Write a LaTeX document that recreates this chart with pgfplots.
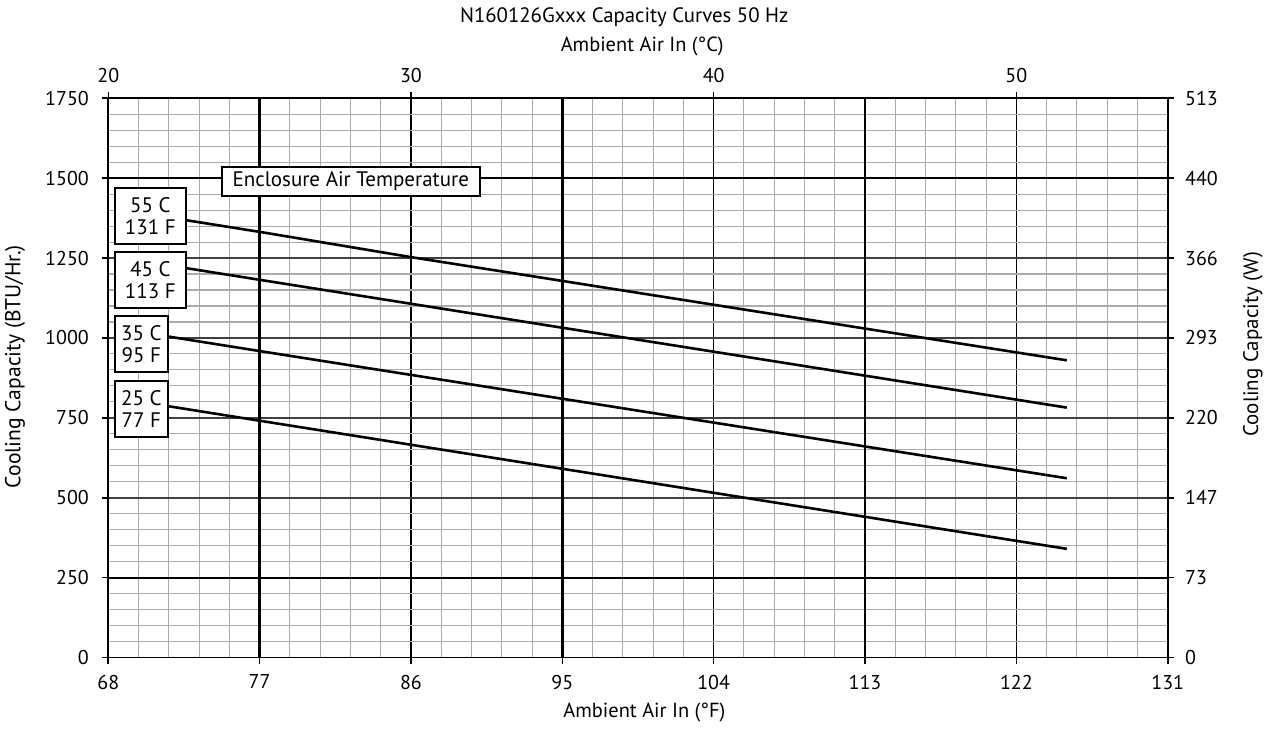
\documentclass[border=0pt]{standalone}
\usepackage{fontspec}
\setmainfont{PT Sans}
\usepackage{pgfplots}
\pgfplotsset{compat=1.18}
\usetikzlibrary{calc}
\begin{document}
\begin{tikzpicture}
\pgfplotsset{every axis/.append style={
  scale only axis, width=529.7pt, height=279.6pt,
  /pgf/number format/assume math mode=true,
  /pgf/number format/1000 sep={},
  tick label style={font=\fontsize{10}{11}\selectfont, black},
  tick align=outside, major tick length=3.2pt, minor tick length=0pt,
  axis line style={line width=0.9pt, black},
  major tick style={line width=0.8pt, black},
}}
\begin{axis}[name=main,
  xmin=68, xmax=131, ymin=0, ymax=1750,
  xtick={68,77,...,131}, ytick={0,250,...,1750},
  minor x tick num=4, minor y tick num=4,
  xtick pos=bottom, ytick pos=left,
  grid=both,
  major x grid style={black, line width=0.7pt},
  major y grid style={black!75, line width=0.85pt},
  minor grid style={black!33, line width=0.55pt},
  extra x ticks={77,95,113}, extra x tick labels={},
  extra x tick style={major x grid style={black, line width=1.3pt}},
  extra y ticks={250,1500}, extra y tick labels={},
  extra y tick style={major y grid style={black, line width=1pt}},
  xticklabel style={yshift=-2pt},
  yticklabel style={xshift=-3pt},
  clip=false,
]
\addplot[black, line width=1.3pt] coordinates {(71.5,1378) (77,1332) (86,1253) (125,930)};
\addplot[black, line width=1.3pt] coordinates {(71.5,1228) (77,1182) (125,782)};
\addplot[black, line width=1.3pt] coordinates {(71.5,1005) (77,959) (125,561)};
\addplot[black, line width=1.3pt] coordinates {(71.5,787) (77,741) (125,340)};

\tikzset{lbl/.style={draw=black, fill=white, line width=0.8pt, inner sep=0pt, minimum height=28pt, align=center, anchor=west, font=\fontsize{10.5}{10.8}\selectfont}}
\node[lbl, minimum width=35.5pt] at (axis cs:68.34,1382) {55 C\\131 F};
\node[lbl, minimum width=35.5pt] at (axis cs:68.34,1181.5) {45 C\\113 F};
\node[lbl, minimum width=26.5pt] at (axis cs:68.34,981) {35 C\\95 F};
\node[lbl, minimum width=26.5pt] at (axis cs:68.34,778) {25 C\\77 F};
\node[draw=black, fill=white, line width=0.8pt, inner sep=0pt, minimum height=14.6pt, minimum width=129pt, anchor=west, font=\fontsize{10.5}{12}\selectfont] at (axis cs:74.70,1490) {Enclosure Air Temperature};

\node[font=\fontsize{10.4}{12}\selectfont] at (axis description cs:0.487,1.1454) {N160126Gxxx Capacity Curves 50 Hz};
\node[font=\fontsize{10.2}{12}\selectfont] at (axis description cs:0.504,1.092) {Ambient Air In (°C)};
\node[font=\fontsize{10.2}{12}\selectfont] at (axis description cs:0.506,-0.099) {Ambient Air In (°F)};
\node[font=\fontsize{10.8}{12}\selectfont, rotate=90] at (axis description cs:-0.088,0.52) {Cooling Capacity (BTU/Hr.)};
\node[font=\fontsize{10.5}{12}\selectfont, rotate=90] at (axis description cs:1.0805,0.56) {Cooling Capacity (W)};
\end{axis}
\begin{axis}[
  xmin=20, xmax=55, ymin=0, ymax=1750,
  xtick={20,30,40,50}, ytick={0,250,...,1750},
  yticklabels={0,73,147,220,293,366,440,513},
  axis x line*=top, axis y line*=right,
  xticklabel style={yshift=1pt},
  yticklabel style={xshift=2pt},
]
\end{axis}
\pgfresetboundingbox
\path[use as bounding box] ($(main.south west)+(-54.15pt,-35.75pt)$) rectangle ($(main.north east)+(51.15pt,49.15pt)$);
\end{tikzpicture}
\end{document}
